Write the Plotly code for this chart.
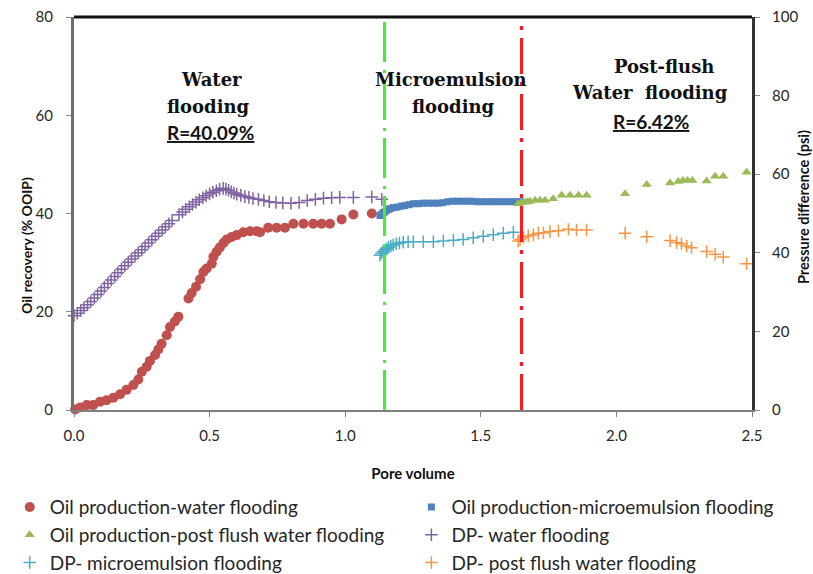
import plotly.graph_objects as go

# ---------------- data ----------------
# Oil production - water flooding (PV, % OOIP)
wf_oil_pv = [0.004, 0.022, 0.047, 0.071, 0.096, 0.120, 0.145, 0.170, 0.194, 0.219, 0.237, 0.250,
             0.268, 0.280, 0.299, 0.311, 0.323, 0.342, 0.354, 0.372, 0.385, 0.422, 0.434, 0.450,
             0.465, 0.477, 0.489, 0.508, 0.514, 0.526, 0.538, 0.551, 0.563, 0.581, 0.600, 0.624,
             0.649, 0.674, 0.686, 0.716, 0.747, 0.778, 0.809, 0.846, 0.882, 0.913, 0.944, 0.987,
             1.030, 1.098]
wf_oil = [0.1, 0.5, 1.0, 1.0, 1.7, 2.0, 2.5, 3.2, 4.1, 5.1, 6.2, 7.8,
          8.8, 10.0, 11.2, 12.3, 13.5, 15.2, 16.9, 18.0, 19.0, 22.7, 23.8, 25.1,
          26.6, 28.1, 28.8, 29.8, 31.2, 32.2, 33.1, 34.0, 34.7, 35.2, 35.6, 36.2,
          36.4, 36.4, 36.2, 37.1, 37.1, 37.1, 37.9, 37.9, 37.9, 37.9, 37.9, 38.8,
          39.8, 40.0]

# Oil production - microemulsion flooding
me_oil_pv = [1.128, 1.135, 1.142, 1.150, 1.158, 1.166, 1.178, 1.192, 1.206, 1.220, 1.236, 1.252,
             1.270, 1.288, 1.306, 1.324, 1.342, 1.360, 1.378, 1.396, 1.414, 1.432, 1.450, 1.468,
             1.486, 1.504, 1.522, 1.540, 1.558, 1.576, 1.594, 1.612, 1.630, 1.645]
me_oil = [39.6, 39.9, 40.2, 40.5, 40.8, 41.0, 41.2, 41.3, 41.5, 41.6, 41.8, 42.0,
          42.0, 42.1, 42.1, 42.1, 42.1, 42.2, 42.4, 42.5, 42.5, 42.5, 42.5, 42.5,
          42.4, 42.4, 42.4, 42.4, 42.4, 42.4, 42.4, 42.4, 42.4, 42.4]

# Oil production - post flush water flooding
pf_oil_pv = [1.638, 1.650, 1.663, 1.672, 1.681, 1.700, 1.718, 1.737, 1.767, 1.798, 1.829, 1.860,
             1.890, 2.032, 2.112, 2.198, 2.228, 2.245, 2.262, 2.280, 2.333, 2.364, 2.394, 2.480]
pf_oil = [42.0, 42.2, 42.3, 42.4, 42.5, 42.7, 42.7, 42.7, 43.0, 43.7, 43.7, 43.7,
          43.7, 44.0, 45.9, 46.2, 46.5, 46.7, 46.7, 46.7, 46.6, 47.6, 47.6, 48.4]

# DP - water flooding (PV, psi)
wf_dp_pv = [0.000, 0.012, 0.025, 0.037, 0.050, 0.062, 0.075, 0.087, 0.100, 0.112, 0.125, 0.137,
            0.150, 0.162, 0.175, 0.187, 0.200, 0.212, 0.225, 0.237, 0.250, 0.262, 0.275, 0.287,
            0.300, 0.312, 0.325, 0.337, 0.350, 0.362, 0.387, 0.400, 0.412, 0.425, 0.437, 0.450,
            0.462, 0.475, 0.487, 0.500, 0.512, 0.525, 0.537, 0.550, 0.560, 0.570, 0.580, 0.590,
            0.600, 0.615, 0.630, 0.645, 0.660, 0.680, 0.700, 0.720, 0.745, 0.770, 0.800, 0.830,
            0.860, 0.890, 0.920, 0.950, 0.980, 1.030, 1.098, 1.135]
wf_dp = [24.0, 24.6, 25.3, 26.0, 26.8, 27.6, 28.5, 29.4, 30.3, 31.2, 32.2, 33.1,
         34.0, 34.9, 35.8, 36.7, 37.6, 38.4, 39.2, 40.0, 40.8, 41.6, 42.5, 43.3,
         44.2, 45.0, 45.8, 46.6, 47.4, 48.2, 49.7, 50.4, 51.1, 51.7, 52.3, 52.9,
         53.5, 54.0, 54.5, 55.0, 55.4, 55.8, 56.2, 56.4, 56.2, 55.9, 55.5, 55.2,
         54.9, 54.6, 54.3, 54.1, 53.8, 53.6, 53.3, 53.0, 52.8, 52.7, 52.6, 52.8,
         53.3, 53.6, 53.9, 54.0, 54.1, 54.1, 54.2, 53.6]

# DP - microemulsion flooding
me_dp_pv = [1.128, 1.134, 1.140, 1.147, 1.153, 1.160, 1.168, 1.177, 1.188, 1.200, 1.214, 1.232,
            1.251, 1.288, 1.325, 1.362, 1.399, 1.435, 1.472, 1.509, 1.546, 1.583, 1.620]
me_dp = [39.4, 39.9, 40.3, 40.7, 41.0, 41.4, 41.7, 42.0, 42.3, 42.5, 42.7, 42.8,
         42.8, 42.8, 42.8, 43.0, 43.2, 43.4, 43.8, 44.2, 44.6, 45.0, 45.2]

# DP - post flush water flooding
pf_dp_pv = [1.638, 1.645, 1.657, 1.675, 1.694, 1.712, 1.731, 1.755, 1.786, 1.823, 1.853, 1.890,
            2.032, 2.112, 2.198, 2.222, 2.240, 2.259, 2.277, 2.333, 2.364, 2.394, 2.480]
pf_dp = [43.0, 43.4, 43.9, 44.3, 44.6, 45.0, 45.1, 45.4, 45.6, 46.0, 45.8, 45.8,
         45.0, 44.1, 43.1, 42.6, 42.3, 41.7, 41.3, 40.3, 39.6, 38.9, 37.2]

# phase boundaries (pore volume)
phase_boundaries = [1.145, 1.65]

series_names = ["Oil production-water flooding", "Oil production-microemulsion flooding",
                "Oil production-post flush water flooding", "DP- water flooding",
                "DP- microemulsion flooding", "DP- post flush water flooding"]

x_ticks = [0.0, 0.5, 1.0, 1.5, 2.0, 2.5]
x_tick_labels = ["0.0", "0.5", "1.0", "1.5", "2.0", "2.5"]

# ---------------- figure ----------------
TICKFONT = dict(family="Lato", size=15, color="#262626")
fig = go.Figure()

fig.add_trace(go.Scatter(x=wf_oil_pv, y=wf_oil, mode="markers", name=series_names[0],
                         marker=dict(symbol="circle", size=10, color="#C0504D"),
                         cliponaxis=False, legend="legend"))
fig.add_trace(go.Scatter(x=me_oil_pv, y=me_oil, mode="markers", name=series_names[1],
                         marker=dict(symbol="square", size=7, color="#4F81BD"),
                         legend="legend2"))
fig.add_trace(go.Scatter(x=pf_oil_pv, y=pf_oil, mode="markers", name=series_names[2],
                         marker=dict(symbol="triangle-up", size=9, color="#9BBB59"),
                         legend="legend"))
fig.add_trace(go.Scatter(x=wf_dp_pv, y=wf_dp, mode="markers", name=series_names[3], yaxis="y2",
                         marker=dict(symbol="cross-thin", size=9, line=dict(color="#8064A2", width=1.5)),
                         cliponaxis=False, legend="legend2"))
fig.add_trace(go.Scatter(x=me_dp_pv, y=me_dp, mode="markers", name=series_names[4], yaxis="y2",
                         marker=dict(symbol="cross-thin", size=9, line=dict(color="#4BACC6", width=1.5)),
                         legend="legend"))
fig.add_trace(go.Scatter(x=pf_dp_pv, y=pf_dp, mode="markers", name=series_names[5], yaxis="y2",
                         marker=dict(symbol="cross-thin", size=9, line=dict(color="#F79646", width=1.5)),
                         legend="legend2"))

shapes = []
for xb, col, dash in zip(phase_boundaries, ["#44EE33", "#FF1A1A"],
                         ["40px,7px,3px,8px", "36px,8px,4px,8px"]):
    shapes.append(dict(type="line", xref="x", yref="paper", x0=xb, x1=xb, y0=0, y1=1,
                       line=dict(color=col, width=3, dash=dash), layer="above"))
# top frame line
shapes.append(dict(type="line", xref="paper", yref="paper", x0=0, x1=1, y0=1, y1=1,
                   line=dict(color="#111111", width=3)))

HEAD = dict(family="DejaVu Serif", size=18, color="#111111")
RFONT = dict(family="Lato", size=19, color="#111111", weight="bold", lineposition="under")
ann = []
def add_ann(text, x, y, font, angle=0):
    ann.append(dict(text=text, x=x, y=y, xref="paper", yref="paper", showarrow=False,
                    xanchor="center", yanchor="middle", font=font, textangle=angle))
add_ann("<b>Water</b>", 0.2035, 0.840, HEAD)
add_ann("<b>flooding</b>", 0.198, 0.7735, HEAD)
add_ann("R=40.09%", 0.2015, 0.705, RFONT)
add_ann("<b>Microemulsion</b>", 0.556, 0.840, HEAD)
add_ann("<b>flooding</b>", 0.559, 0.7735, HEAD)
add_ann("<b>Post-flush</b>", 0.870, 0.875, HEAD)
add_ann("<b>Water  flooding</b>", 0.850, 0.809, HEAD)
add_ann("R=6.42%", 0.851, 0.735, RFONT)
# axis titles (plot area spans x 74..752 px, y 17..410 px)
add_ann("<b>Oil recovery (% OOIP)</b>", (26 - 74) / 678, (410 - 246) / 393,
        dict(family="Lato", size=14, color="#111111"), -90)
add_ann("<b>Pressure difference (psi)</b>", (803 - 74) / 678, (410 - 207) / 393,
        dict(family="Lato", size=14.5, color="#111111"), -90)

LEGFONT = dict(family="Lato", size=19, color="#262626")
fig.update_layout(
    width=813, height=574,
    margin=dict(l=74, r=61, t=17, b=164, autoexpand=False),
    paper_bgcolor="white", plot_bgcolor="white",
    font=dict(family="Lato", color="#262626"),
    xaxis=dict(range=[0, 2.5], tickvals=x_ticks, ticktext=x_tick_labels, showgrid=False,
               zeroline=False, showline=True, linecolor="#7F7F7F", linewidth=2,
               ticks="outside", ticklen=5, tickcolor="#7F7F7F", tickfont=TICKFONT,
               ticklabelstandoff=6,
               title=dict(text="<b>Pore volume</b>", font=dict(family="Lato", size=15, color="#111111"),
                          standoff=25)),
    yaxis=dict(range=[0, 80], dtick=20, showgrid=False, zeroline=False, showline=True,
               linecolor="#6E6E6E", linewidth=3, ticks="outside", ticklen=5, tickcolor="#8C8C8C",
               tickfont=TICKFONT, ticklabelstandoff=10),
    yaxis2=dict(range=[0, 100], dtick=20, overlaying="y", side="right", showgrid=False,
                zeroline=False, showline=True, linecolor="#333333", linewidth=3,
                ticks="outside", ticklen=5, tickcolor="#8C8C8C", tickfont=TICKFONT,
                ticklabelstandoff=9),
    legend=dict(orientation="v", xref="container", yref="container", x=0.012, y=0.1495,
                xanchor="left", yanchor="top", font=LEGFONT,
                tracegroupgap=0, bgcolor="rgba(0,0,0,0)"),
    legend2=dict(orientation="v", xref="container", yref="container", x=0.506, y=0.1495,
                 xanchor="left", yanchor="top", font=LEGFONT,
                 tracegroupgap=0, bgcolor="rgba(0,0,0,0)"),
    shapes=shapes, annotations=ann,
)

fig.write_html("out.html", config={"displayModeBar": False},
               post_script="document.body.style.margin='0px';")
